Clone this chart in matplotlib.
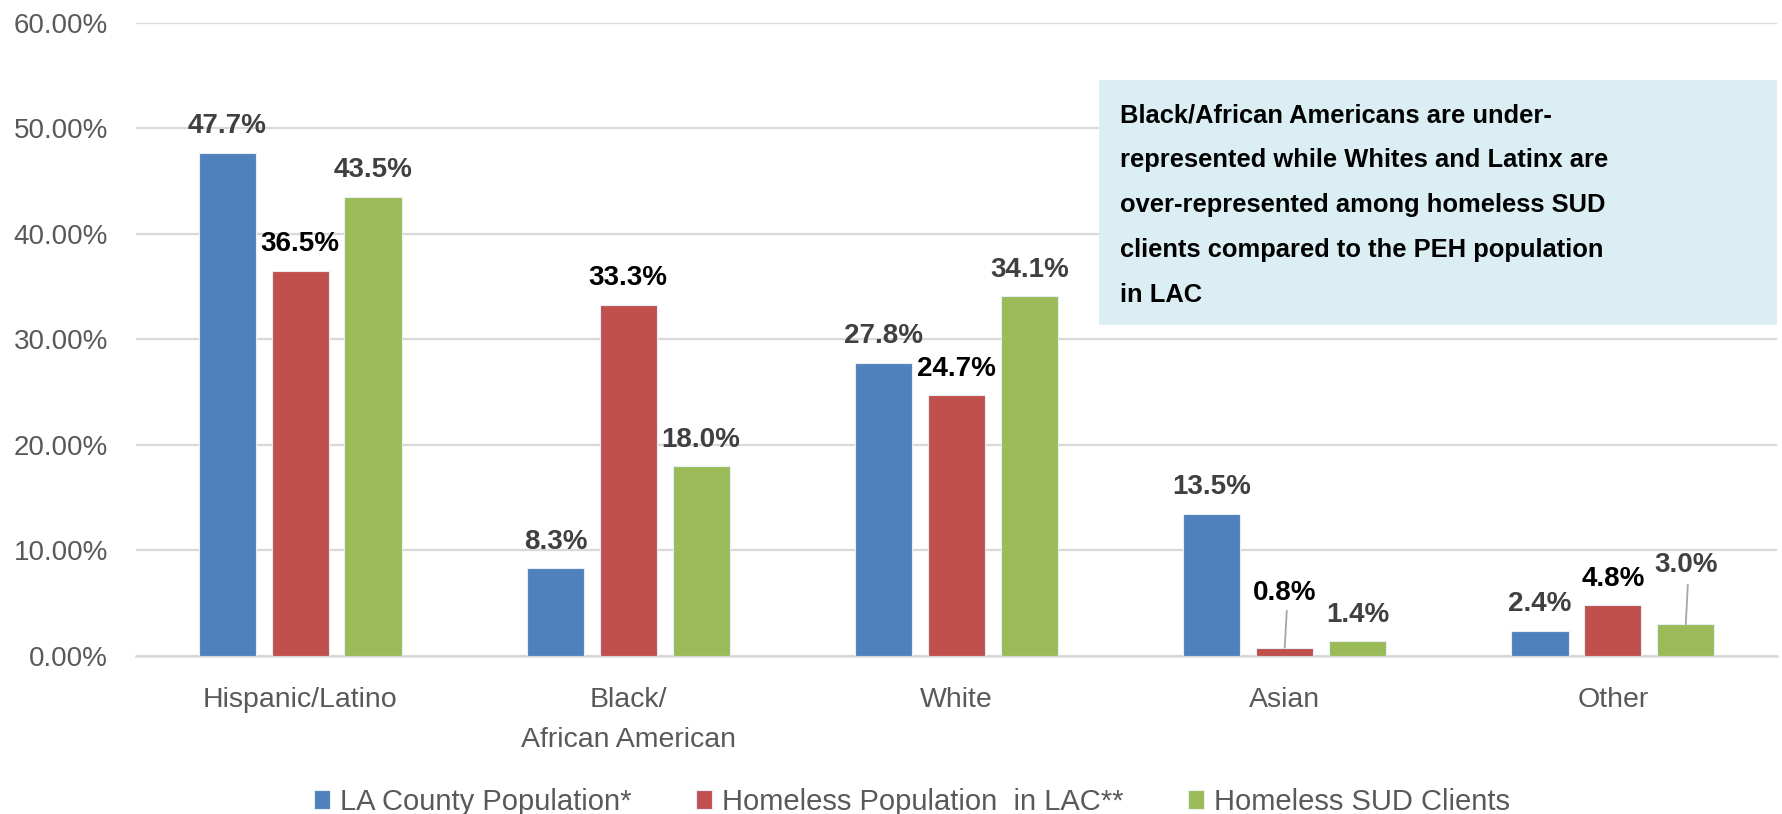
import matplotlib
matplotlib.use('Agg')
import matplotlib.pyplot as plt
from matplotlib.patches import Rectangle
from matplotlib.ticker import FuncFormatter, FixedLocator

plt.rcParams['font.family'] = ['Liberation Sans', 'DejaVu Sans']

# ---------------- data ----------------
categories = ['Hispanic/Latino', 'Black/\nAfrican American', 'White', 'Asian', 'Other']
series_names = ['LA County Population*', 'Homeless Population  in LAC**', 'Homeless SUD Clients']
la_county = [47.7, 8.3, 27.8, 13.5, 2.4]
homeless_lac = [36.5, 33.3, 24.7, 0.8, 4.8]
sud_clients = [43.5, 18.0, 34.1, 1.4, 3.0]
series_values = [la_county, homeless_lac, sud_clients]
y_ticks = [0, 10, 20, 30, 40, 50, 60]
note = ("Black/African Americans are under-\n"
        "represented while Whites and Latinx are\n"
        "over-represented among homeless SUD\n"
        "clients compared to the PEH population\n"
        "in LAC")

# ---------------- style ----------------
colors = ['#4F81BD', '#C0504D', '#9BBB59']
label_colors = ['#404040', '#000000', '#404040']
# labels lifted with leader lines: (series, category) -> offset in points
lifted = {(1, 3): (34.0, 26.5), (2, 4): (37.5, 28.5)}

W, H = 1783, 814
fig = plt.figure(figsize=(W / 100, H / 100), dpi=100)
ax = fig.add_axes([136 / W, 1 - 656 / H, (1777 - 136) / W, (656 - 22.7) / H])

bar_w = 0.174
step = 0.222
x = list(range(len(categories)))
for s, vals in enumerate(series_values):
    xs = [xi + (s - 1) * step for xi in x]
    ax.bar(xs, vals, width=bar_w, color=colors[s], edgecolor='#E8EEF5',
           linewidth=0.8, zorder=3, label=series_names[s])
    for c, (xx, v) in enumerate(zip(xs, vals)):
        off, line_len = lifted.get((s, c), (14.0, None))
        ax.annotate(f'{v:.1f}%', xy=(xx, v), xytext=(0, off), textcoords='offset points',
                    ha='center', va='baseline', fontsize=20, fontweight='bold',
                    color=label_colors[s], zorder=6)
        if line_len is not None:
            ax.annotate('', xy=(xx, v), xytext=(1.5, line_len), textcoords='offset points',
                        arrowprops=dict(arrowstyle='-', color='#A6A6A6', lw=1.3,
                                        shrinkA=0, shrinkB=0), zorder=4)

ax.set_xlim(-0.5, len(categories) - 0.5)
ax.set_ylim(0, 60)
ax.yaxis.set_major_locator(FixedLocator(y_ticks))
ax.yaxis.set_major_formatter(FuncFormatter(lambda v, p: f'{v:.2f}%'))
ax.set_xticks(x)
ax.set_xticklabels(categories, linespacing=1.7)
ax.tick_params(axis='y', length=0, pad=20, labelsize=20, labelcolor='#595959')
ax.tick_params(axis='x', length=0, pad=22, labelsize=20.5, labelcolor='#595959')
ax.grid(axis='y', color='#D9D9D9', linewidth=1.6, zorder=0)
ax.set_axisbelow(True)
for sp in ['left', 'right', 'top']:
    ax.spines[sp].set_visible(False)
ax.spines['bottom'].set_color('#D9D9D9')
ax.spines['bottom'].set_linewidth(1.8)

# annotation box
box = Rectangle((1099 / W, 1 - 325 / H), (1777 - 1099) / W, (325 - 80) / H,
                transform=fig.transFigure, facecolor='#DBEEF4', edgecolor='none',
                zorder=5, clip_on=False)
ax.add_patch(box)
fig.text(1120 / W, 1 - 103.5 / H, note, ha='left', va='top', fontsize=18.4,
         fontweight='bold', color='#000000', linespacing=2.1, zorder=7)

leg = fig.legend(loc='center', bbox_to_anchor=(912 / W, 1 - 802 / H), ncol=3,
                 frameon=False, fontsize=21, handlelength=0.55, handleheight=0.6,
                 handletextpad=0.35, columnspacing=2.2, borderaxespad=0)
for t in leg.get_texts():
    t.set_color('#595959')

fig.savefig('out.png', dpi=100)
